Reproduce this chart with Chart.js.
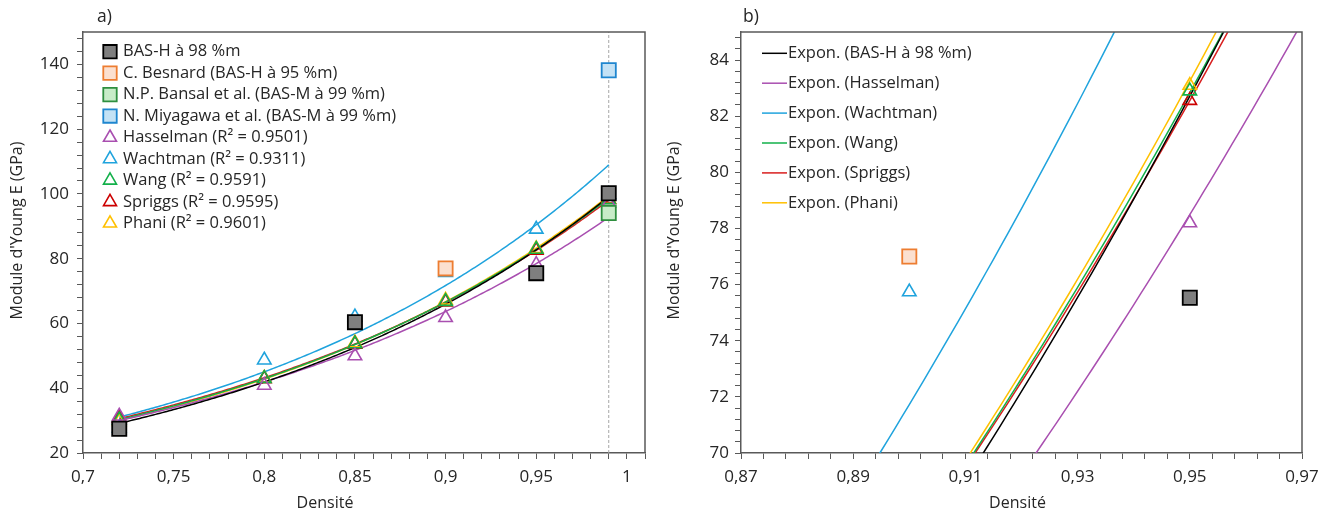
<!DOCTYPE html>
<html><head><meta charset="utf-8">
<script src="https://cdn.jsdelivr.net/npm/chart.js@4.4.0/dist/chart.umd.min.js"></script>
<style>
html,body{margin:0;padding:0;background:#fff;}
#wrap{position:relative;width:1329px;height:512px;overflow:hidden;background:#fff;}
canvas{position:absolute;top:0;}
#ca{left:0;} #cb{left:664px;}
</style></head><body>
<div id="wrap"><canvas id="ca" width="664" height="512"></canvas><canvas id="cb" width="665" height="512"></canvas></div>
<script>
// ---------------- DATA ----------------
// Model predictions (triangles), density values
const modelDensity = [0.72, 0.80, 0.85, 0.90, 0.95, 0.99];
const hasselmanE = [31.4, 40.9, 50.0, 61.8, 78.2, 97.2];
const wachtmanE  = [27.7, 48.7, 62.0, 75.74, 89.1, 99.8];
const wangE      = [30.2, 43.0, 53.7, 66.8, 82.9, 98.2];
const spriggsE   = [30.8, 42.9, 53.6, 66.6, 82.56, 98.3];
const phaniE     = [29.7, 43.1, 54.0, 67.2, 83.1, 98.4];

// Experimental values (squares)
const basHDensity = [0.72, 0.85, 0.95, 0.99];
const basHE       = [27.5, 60.4, 75.53, 100.2];
const besnardDensity = [0.90];
const besnardE       = [77.0];
const bansalDensity  = [0.99];
const bansalE        = [94.1];
const miyagawaDensity = [0.99];
const miyagawaE       = [138.2];

// Vertical reference line
const refLineDensity = [0.99, 0.99];
const refLineE       = [20, 150];

// Tick labels
const xTicksA = [0.7, 0.75, 0.8, 0.85, 0.9, 0.95, 1.0];
const yTicksA = [20, 40, 60, 80, 100, 120, 140];
const xTicksB = [0.87, 0.89, 0.91, 0.93, 0.95, 0.97];
const yTicksB = [70, 72, 74, 76, 78, 80, 82, 84];

// Legend labels
const markerLabels = ['BAS-H à 98 %m', 'C. Besnard (BAS-H à 95 %m)', 'N.P. Bansal et al. (BAS-M à 99 %m)',
  'N. Miyagawa et al. (BAS-M à 99 %m)', 'Hasselman (R² = 0.9501)', 'Wachtman (R² = 0.9311)',
  'Wang (R² = 0.9591)', 'Spriggs (R² = 0.9595)', 'Phani (R² = 0.9601)'];
const trendLabels = ['Expon. (BAS-H à 98 %m)', 'Expon. (Hasselman)', 'Expon. (Wachtman)',
  'Expon. (Wang)', 'Expon. (Spriggs)', 'Expon. (Phani)'];

// ---------------- STYLE ----------------
const FONT = "'Open Sans', sans-serif";
Chart.defaults.font.family = FONT;
const TXT = '#262626';
const AXIS = '#595959';
const COL = {
  black: '#000000', purple: '#a94fb0', blue: '#1fa3dd', green: '#12b04a', red: '#d81e1e', yellow: '#ffc000'
};

// ---------------- HELPERS ----------------
function pts(xs, ys) { return xs.map((x, i) => ({x: x, y: ys[i]})); }
// Excel-style exponential trendline: least squares on ln(E)
function expTrend(xs, ys) {
  const n = xs.length, ly = ys.map(Math.log);
  const mx = xs.reduce((a, b) => a + b, 0) / n, my = ly.reduce((a, b) => a + b, 0) / n;
  let sxy = 0, sxx = 0;
  for (let i = 0; i < n; i++) { sxy += (xs[i] - mx) * (ly[i] - my); sxx += (xs[i] - mx) * (xs[i] - mx); }
  const b = sxy / sxx, a = my - b * mx;
  const x0 = Math.min(...xs), x1 = Math.max(...xs), out = [], steps = 216;
  for (let i = 0; i <= steps; i++) { const x = x0 + (x1 - x0) * i / steps; out.push({x: x, y: Math.exp(a + b * x)}); }
  return out;
}
function markerDS(label, xs, ys, style, radius, bg, border, bw, legendRadius) {
  return {type: 'scatter', label: label, data: pts(xs, ys), showLine: false, order: 1,
    pointStyle: style, pointRadius: radius, pointHoverRadius: radius,
    pointBackgroundColor: bg, pointBorderColor: border, pointBorderWidth: bw,
    backgroundColor: bg, borderColor: border, legendRadius: legendRadius || radius};
}
function trendDS(label, xs, ys, color) {
  return {type: 'line', label: label, data: expTrend(xs, ys), showLine: true, order: 2,
    borderColor: color, borderWidth: 1.5, pointRadius: 0, fill: false, tension: 0};
}
function makeDatasets(withRef) {
  const trends = [
    trendDS(trendLabels[0], basHDensity, basHE, COL.black),
    trendDS(trendLabels[1], modelDensity, hasselmanE, COL.purple),
    trendDS(trendLabels[2], modelDensity, wachtmanE, COL.blue),
    trendDS(trendLabels[3], modelDensity, wangE, COL.green),
    trendDS(trendLabels[4], modelDensity, spriggsE, COL.red),
    trendDS(trendLabels[5], modelDensity, phaniE, COL.yellow)
  ];
  const markers = [
    markerDS(markerLabels[0], basHDensity, basHE, 'rect', 10, '#7f7f7f', '#000000', 1.8, 9.5),
    markerDS(markerLabels[1], besnardDensity, besnardE, 'rect', 10, '#fbe0d0', '#ed7d31', 1.8, 9.5),
    markerDS(markerLabels[2], bansalDensity, bansalE, 'rect', 10, '#c8ecc8', '#2f8f3f', 1.8, 9.5),
    markerDS(markerLabels[3], miyagawaDensity, miyagawaE, 'rect', 10, '#c4e2f5', '#1f86cf', 1.8, 9.5),
    markerDS(markerLabels[4], modelDensity, hasselmanE, 'triangle', 7.8, 'rgba(0,0,0,0)', COL.purple, 1.6, 7.5),
    markerDS(markerLabels[5], modelDensity, wachtmanE, 'triangle', 7.8, 'rgba(0,0,0,0)', COL.blue, 1.6, 7.5),
    markerDS(markerLabels[6], modelDensity, wangE, 'triangle', 7.8, 'rgba(0,0,0,0)', COL.green, 1.6, 7.5),
    markerDS(markerLabels[7], modelDensity, spriggsE, 'triangle', 7.8, 'rgba(0,0,0,0)', '#cc0000', 1.6, 7.5),
    markerDS(markerLabels[8], modelDensity, phaniE, 'triangle', 7.8, 'rgba(0,0,0,0)', COL.yellow, 1.6, 7.5)
  ];
  const list = trends.slice();
  if (withRef) {
    list.push({type: 'line', label: 'ref', data: pts(refLineDensity, refLineE), showLine: true, order: 3,
      borderColor: '#a6a6a6', borderWidth: 1, borderDash: [3, 2], pointRadius: 0, fill: false});
  }
  return {trends: trends, markers: markers, all: list.concat(markers)};
}
function fmt(v) { return String(Number(v.toFixed(4))).replace('.', ','); }
function makeScale(min, max, majors, subdiv, axis, fixedSize, tickPad) {
  const minor = (majors[1] - majors[0]) / subdiv;
  return {
    type: 'linear', min: min, max: max,
    afterBuildTicks: function (s) {
      const t = []; const n = Math.round((max - min) / minor + 1e-9);
      for (let i = 0; i <= n; i++) { const v = Math.round((min + i * minor) * 1e6) / 1e6; if (v <= max + 1e-9) t.push({value: v}); }
      s.ticks = t;
    },
    afterFit: function (s) { if (axis === 'x') s.height = fixedSize; else s.width = fixedSize; },
    ticks: {
      autoSkip: false, maxRotation: 0, minRotation: 0, padding: tickPad, color: TXT,
      font: {family: FONT, size: 17},
      callback: function (v) { return majors.some(m => Math.abs(m - v) < 1e-7) ? fmt(v) : ''; }
    },
    grid: {drawOnChartArea: false, drawTicks: true, tickLength: 6, color: AXIS, tickColor: AXIS, lineWidth: 1},
    border: {display: true, color: AXIS, width: 1.5}
  };
}
function framePlugin() {
  return {id: 'frame', afterDraw(chart) {
    const a = chart.chartArea, ctx = chart.ctx;
    ctx.save(); ctx.strokeStyle = AXIS; ctx.lineWidth = 1.5;
    ctx.beginPath(); ctx.moveTo(a.left, a.top); ctx.lineTo(a.right, a.top); ctx.lineTo(a.right, a.bottom); ctx.stroke();
    ctx.restore();
  }};
}
function textPlugin(items) {
  return {id: 'texts', afterDraw(chart) {
    const ctx = chart.ctx;
    items.forEach(t => {
      ctx.save(); ctx.translate(t.x, t.y); if (t.rot) ctx.rotate(t.rot);
      ctx.font = t.font; ctx.fillStyle = TXT; ctx.textAlign = t.align || 'center'; ctx.textBaseline = 'middle';
      ctx.fillText(t.text, 0, 0); ctx.restore();
    });
  }};
}
function legendPlugin(cfg) {
  return {id: 'customLegend', afterDraw(chart) {
    const ctx = chart.ctx;
    ctx.save();
    cfg.items.forEach((ds, i) => {
      const y = cfg.y + i * cfg.dy;
      if (cfg.kind === 'line') {
        ctx.strokeStyle = ds.borderColor; ctx.lineWidth = 1.5;
        ctx.beginPath(); ctx.moveTo(cfg.x, y); ctx.lineTo(cfg.x + cfg.lineLen, y); ctx.stroke();
      } else {
        ctx.fillStyle = ds.pointBackgroundColor; ctx.strokeStyle = ds.pointBorderColor; ctx.lineWidth = ds.pointBorderWidth;
        Chart.helpers.drawPoint(ctx, {pointStyle: ds.pointStyle, radius: ds.legendRadius, borderWidth: ds.pointBorderWidth, rotation: 0}, cfg.x, y);
      }
      ctx.font = cfg.font; ctx.fillStyle = TXT; ctx.textAlign = 'left'; ctx.textBaseline = 'middle';
      ctx.fillText(ds.label, cfg.textX, y);
    });
    ctx.restore();
  }};
}

// ---------------- PANEL a ----------------
const dsA = makeDatasets(true);
new Chart(document.getElementById('ca'), {
  type: 'scatter',
  data: {datasets: dsA.all},
  options: {
    responsive: false, animation: false, devicePixelRatio: 1,
    layout: {padding: {left: 0, right: 19, top: 32, bottom: 0}},
    plugins: {legend: {display: false}, tooltip: {enabled: false}},
    scales: {
      x: makeScale(0.7, 1.01, xTicksA, 5, 'x', 59, 8),
      y: makeScale(20, 150, yTicksA, 5, 'y', 83, 8)
    }
  },
  plugins: [framePlugin(),
    legendPlugin({items: dsA.markers, kind: 'marker', x: 110, y: 51.7, dy: 21.45, textX: 123, font: "16.5px " + FONT}),
    textPlugin([
      {text: 'a)', x: 97, y: 17, align: 'left', font: "17.5px " + FONT},
      {text: 'Densité', x: 325, y: 503, font: "16px " + FONT},
      {text: "Module d'Young E (GPa)", x: 17.5, y: 230.5, rot: -Math.PI / 2, font: "16px " + FONT}
    ])]
});

// ---------------- PANEL b ----------------
const dsB = makeDatasets(false);
new Chart(document.getElementById('cb'), {
  type: 'scatter',
  data: {datasets: dsB.all},
  options: {
    responsive: false, animation: false, devicePixelRatio: 1,
    layout: {padding: {left: 0, right: 27, top: 32, bottom: 0}},
    plugins: {legend: {display: false}, tooltip: {enabled: false}},
    scales: {
      x: makeScale(0.87, 0.97, xTicksB, 5, 'x', 59, 8),
      y: makeScale(70, 85, yTicksB, 5, 'y', 77, 6)
    }
  },
  plugins: [framePlugin(),
    legendPlugin({items: dsB.trends, kind: 'line', x: 98, y: 53.3, dy: 29.9, lineLen: 25, textX: 124, font: "16.5px " + FONT}),
    textPlugin([
      {text: 'b)', x: 79, y: 17, align: 'left', font: "17.5px " + FONT},
      {text: 'Densité', x: 353.5, y: 503, font: "16px " + FONT},
      {text: "Module d'Young E (GPa)", x: 10, y: 230.5, rot: -Math.PI / 2, font: "16px " + FONT}
    ])]
});
</script>
</body></html>
